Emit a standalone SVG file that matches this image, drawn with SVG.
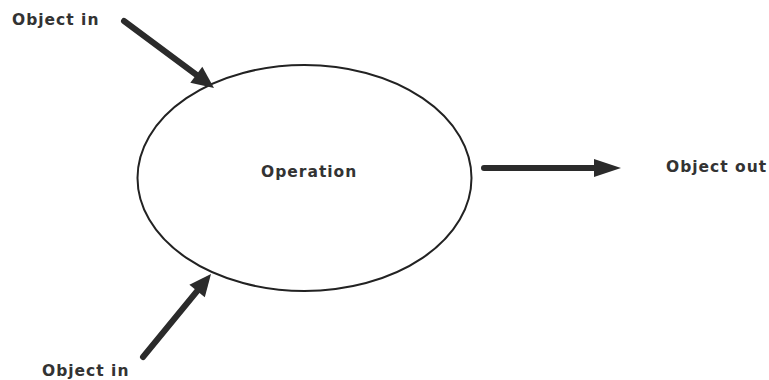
<svg xmlns="http://www.w3.org/2000/svg" width="769" height="380" viewBox="0 0 769 380">
<style>
.lbl{font-family:"DejaVu Sans","Liberation Sans",Arial,sans-serif;font-weight:bold;font-size:15.5px;letter-spacing:1px;fill:#333}
.conn{stroke:#2b2b2b;stroke-width:6;stroke-linecap:round;fill:none}
.head{fill:#2b2b2b}
</style>
<rect width="769" height="380" fill="#fff"/>
<g id="operation">
<ellipse cx="304.5" cy="178" rx="167" ry="113" fill="none" stroke="#222" stroke-width="2"/>
<text class="lbl" x="261" y="177">Operation</text>
</g>
<g id="in1"><text class="lbl" x="12" y="25">Object in</text></g>
<g id="in2"><text class="lbl" x="42" y="376">Object in</text></g>
<g id="out"><text class="lbl" x="666" y="172">Object out</text></g>
<g id="connectors">
<line class="conn" x1="124" y1="21" x2="198" y2="76"/>
<polygon class="head" points="190.3,82.8 214,88 202.3,66.8"/>
<line class="conn" x1="143" y1="357" x2="198" y2="290"/>
<polygon class="head" points="204.8,297.3 211,274 189.4,284.7"/>
<line class="conn" x1="484" y1="168" x2="597" y2="168"/>
<polygon class="head" points="594,159 621,168 594,177"/>
</g>
</svg>
